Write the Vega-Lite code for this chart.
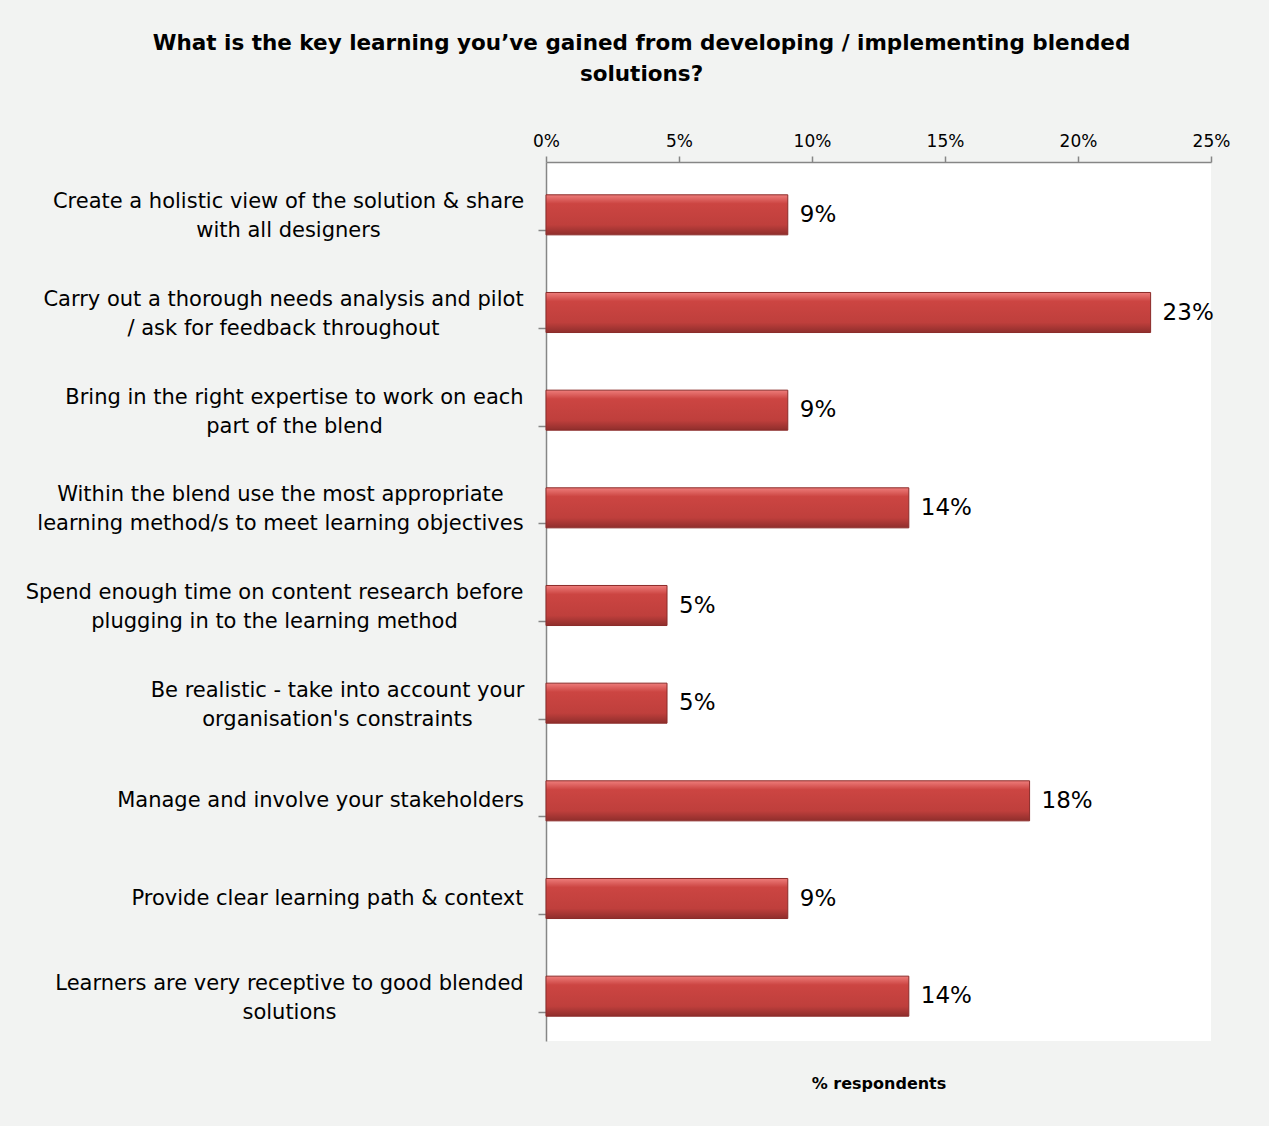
{
  "$schema": "https://vega.github.io/schema/vega-lite/v6.json",
  "autosize": {"type": "none"},
  "width": 665,
  "height": 879,
  "padding": {"left": 546, "top": 162, "right": 58, "bottom": 85},
  "background": "#f2f3f2",
  "config": {
    "view": {"fill": "white", "stroke": null},
    "font": "DejaVu Sans"
  },
  "title": {
    "text": ["What is the key learning you’ve gained from developing / implementing  blended", "solutions?"],
    "fontSize": 21.5,
    "fontWeight": "bold",
    "font": "DejaVu Sans",
    "color": "black",
    "lineHeight": 31,
    "anchor": "middle",
    "frame": "group",
    "dx": -237,
    "offset": 47
  },
  "data": {
    "values": [
      {"learning": "Create a holistic view of the solution & share\nwith all designers", "share": 0.0909},
      {"learning": "Carry out a thorough needs analysis and pilot\n/ ask for feedback throughout", "share": 0.2273},
      {"learning": "Bring in the right expertise to work on each\npart of the blend", "share": 0.0909},
      {"learning": "Within the blend use the most appropriate\nlearning method/s to meet learning objectives", "share": 0.1364},
      {"learning": "Spend enough time on content research before\nplugging in to the learning method", "share": 0.0455},
      {"learning": "Be realistic - take into account your\norganisation's constraints", "share": 0.0455},
      {"learning": "Manage and involve your stakeholders", "share": 0.1818},
      {"learning": "Provide clear learning path & context", "share": 0.0909},
      {"learning": "Learners are very receptive to good blended\nsolutions", "share": 0.1364}
    ]
  },
  "resolve": {"axis": {"x": "independent", "y": "independent"}},
  "layer": [
    {
      "mark": {
        "type": "bar",
        "yOffset": 4,
        "stroke": "#8b2b29",
        "strokeWidth": 1,
        "color": {
          "gradient": "linear", "x1": 0, "y1": 0, "x2": 0, "y2": 1,
          "stops": [
            {"offset": 0, "color": "#ee7d7b"},
            {"offset": 0.22, "color": "#cc4542"},
            {"offset": 0.75, "color": "#bf3f3c"},
            {"offset": 1, "color": "#8f2e2c"}
          ]
        }
      },
      "encoding": {
        "y": {
          "field": "learning", "type": "nominal", "sort": null,
          "scale": {"paddingInner": 0.59, "paddingOuter": 0.295},
          "axis": {
            "orient": "left", "title": null, "ticks": false,
            "domainColor": "#868686", "domainWidth": 1.5,
            "labelFontSize": 21, "labelColor": "black", "labelFont": "DejaVu Sans",
            "labelLineHeight": 29,
            "labelOffset": {
              "condition": {"test": "indexof(datum.value, '\\n') >= 0", "value": -8.5},
              "value": 4
            },
            "labelLimit": 600, "labelAlign": "center",
            "labelExpr": "split(datum.label, '\\n')",
            "labelPadding": {
              "condition": [
                {"test": "indexof(datum.value, 'Create') === 0", "value": 258},
                {"test": "indexof(datum.value, 'Carry') === 0", "value": 263},
                {"test": "indexof(datum.value, 'Bring') === 0", "value": 252},
                {"test": "indexof(datum.value, 'Within') === 0", "value": 266},
                {"test": "indexof(datum.value, 'Spend') === 0", "value": 272},
                {"test": "indexof(datum.value, 'Be realistic') === 0", "value": 209},
                {"test": "indexof(datum.value, 'Manage') === 0", "value": 226},
                {"test": "indexof(datum.value, 'Provide') === 0", "value": 219}
              ],
              "value": 257
            }
          }
        },
        "x": {
          "field": "share", "type": "quantitative",
          "scale": {"domain": [0, 0.25], "nice": false},
          "axis": {
            "orient": "top", "title": null, "format": ".0%",
            "values": [0, 0.05, 0.1, 0.15, 0.2, 0.25],
            "grid": false, "domainColor": "#868686", "domainWidth": 1.5,
            "tickColor": "#868686", "tickSize": 6, "tickWidth": 1.5,
            "labelFlush": false,
            "labelFontSize": 17, "labelColor": "black", "labelPadding": 6, "labelFont": "DejaVu Sans"
          }
        }
      }
    },
    {
      "mark": {"type": "text", "align": "left", "baseline": "middle", "dx": 12, "yOffset": 4, "fontSize": 23, "font": "DejaVu Sans", "color": "black"},
      "encoding": {
        "y": {
          "field": "learning", "type": "nominal", "sort": null,
          "axis": {
            "orient": "left", "title": null, "labels": false, "domain": false,
            "ticks": true, "bandPosition": 1, "tickSize": 8, "tickColor": "#868686", "tickWidth": 1.5
          }
        },
        "x": {
          "field": "share", "type": "quantitative",
          "axis": {
            "orient": "bottom", "title": "% respondents", "labels": false, "ticks": false, "domain": false, "grid": false,
            "titleFontSize": 16, "titleFontWeight": "bold", "titleColor": "black", "titlePadding": 34, "titleFont": "DejaVu Sans"
          }
        },
        "text": {"field": "share", "type": "quantitative", "format": ".0%"}
      }
    }
  ]
}
